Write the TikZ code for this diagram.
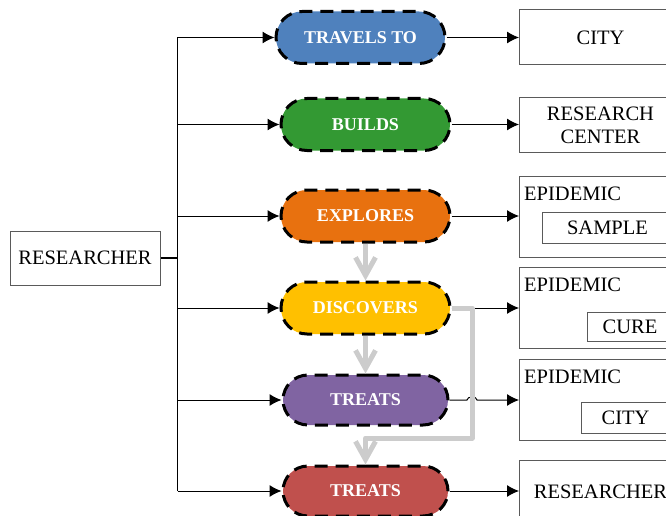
\documentclass[tikz,border=0pt]{standalone}
\usepackage{fontspec}
\setmainfont{Liberation Serif}
\usetikzlibrary{arrows.meta,shapes.misc}
\tikzset{>={Latex[length=12pt,width=12pt]}}
\definecolor{travelblue}{HTML}{4F81BD}
\definecolor{buildgreen}{HTML}{339933}
\definecolor{exploreorange}{HTML}{E8710F}
\definecolor{discoveryellow}{HTML}{FFC000}
\definecolor{treatpurple}{HTML}{8064A2}
\definecolor{treatred}{HTML}{C0504D}
\definecolor{flowgray}{HTML}{CCCCCC}
\definecolor{boxline}{HTML}{5A5A5A}
\tikzset{
  verb/.style={rounded rectangle, draw=black, line width=3pt,
    dash pattern=on 13pt off 8pt, minimum width=169pt, minimum height=52pt,
    inner sep=0pt, text=white, font=\fontsize{18}{18}\selectfont\bfseries},
  thing/.style={draw=boxline, line width=1pt, minimum width=162pt,
    inner sep=0pt, align=center, font=\fontsize{20.5}{23}\selectfont},
  label/.style={inner sep=0pt, anchor=base west, font=\fontsize{20.5}{23}\selectfont},
  link/.style={->, line width=1pt},
  flow/.style={-{Straight Barb[length=18pt,width=20pt]}, flowgray,
    line width=5pt, line join=round}
}

\begin{document}
\begin{tikzpicture}[x=1pt,y=-1pt]
  \useasboundingbox (0,0) rectangle (666,516);
  \clip (0,0) rectangle (666,516);
  % subject
  \node[thing, minimum width=150pt, minimum height=54pt] (researcher) at (85,258) {RESEARCHER};
  % verbs
  \node[verb, fill=travelblue] (travel) at (360.5,37.5) {TRAVELS TO};
  \node[verb, fill=buildgreen] (build) at (365.5,124.5) {BUILDS};
  \node[verb, fill=exploreorange] (explore) at (365.5,216) {EXPLORES};
  \node[verb, fill=discoveryellow] (discover) at (365.5,308) {DISCOVERS};
  \node[verb, fill=treatpurple, minimum width=165pt, minimum height=50pt] (treatA) at (365.5,400) {TREATS};
  \node[verb, fill=treatred, minimum width=165pt, minimum height=50pt] (treatB) at (365.5,491) {TREATS};
  % objects
  \node[thing, anchor=west, minimum height=55pt] (city) at (519,37.5) {CITY};
  \node[thing, anchor=west, minimum height=54pt] (center) at (519,125) {RESEARCH\\CENTER};
  \node[thing, anchor=north west, minimum height=81pt] (epiA) at (519,176) {};
  \node[label] at ([xshift=5pt,yshift=-24pt]epiA.north west) {EPIDEMIC};
  \node[thing, anchor=north west, minimum width=130pt, minimum height=31pt]
    (sample) at ([xshift=23pt,yshift=-36pt]epiA.north west) {SAMPLE};
  \node[thing, anchor=north west, minimum height=81pt] (epiB) at (519,267) {};
  \node[label] at ([xshift=5pt,yshift=-24pt]epiB.north west) {EPIDEMIC};
  \node[thing, anchor=north west, minimum width=85pt, minimum height=29pt]
    (cure) at ([xshift=68pt,yshift=-45pt]epiB.north west) {CURE};
  \node[thing, anchor=north west, minimum height=81pt] (epiC) at (519,359) {};
  \node[label] at ([xshift=5pt,yshift=-24pt]epiC.north west) {EPIDEMIC};
  \node[thing, anchor=north west, minimum width=88pt, minimum height=31pt]
    (cityB) at ([xshift=62pt,yshift=-43pt]epiC.north west) {CITY};
  \node[thing, anchor=north west, minimum height=62pt] (target) at (519,460) {RESEARCHER};
  % trunk
  \draw[line width=1.8pt] (researcher.east) -- ++(17,0) coordinate (hub);
  \draw[line width=1pt] (hub |- travel.west) -- (hub |- treatB.west);
  \draw[link] (hub |- travel.west) -- (travel.west);
  \draw[link] (hub |- build.west) -- (build.west);
  \draw[link] (hub |- explore.west) -- (explore.west);
  \draw[link] (hub |- discover.west) -- (discover.west);
  \draw[link] (hub |- treatA.west) -- (treatA.west);
  \draw[link] (hub |- treatB.west) -- (treatB.west);
  % verb to object
  \draw[link] (travel.east) -- (city.west);
  \draw[link] (build.east) -- (build.east -| center.west);
  \draw[link] (explore.east) -- (explore.east -| epiA.west);
  \draw[link] (discover.east) -- (discover.east -| epiB.west);
  \draw[link] (treatA.east) -- (467,400) .. controls (467,396) and (477,396) .. (477,400)
    -- (treatA.east -| epiC.west);
  \draw[link] (treatB.east) -- (treatB.east -| target.west);
  % sequence
  \coordinate (bend) at (472,438);
  \draw[flow] (explore.south) -- (discover.north);
  \draw[flow] (discover.south) -- (treatA.north);
  \draw[flow] (discover.east) -| (bend) -| (treatB.north);
\end{tikzpicture}
\end{document}
